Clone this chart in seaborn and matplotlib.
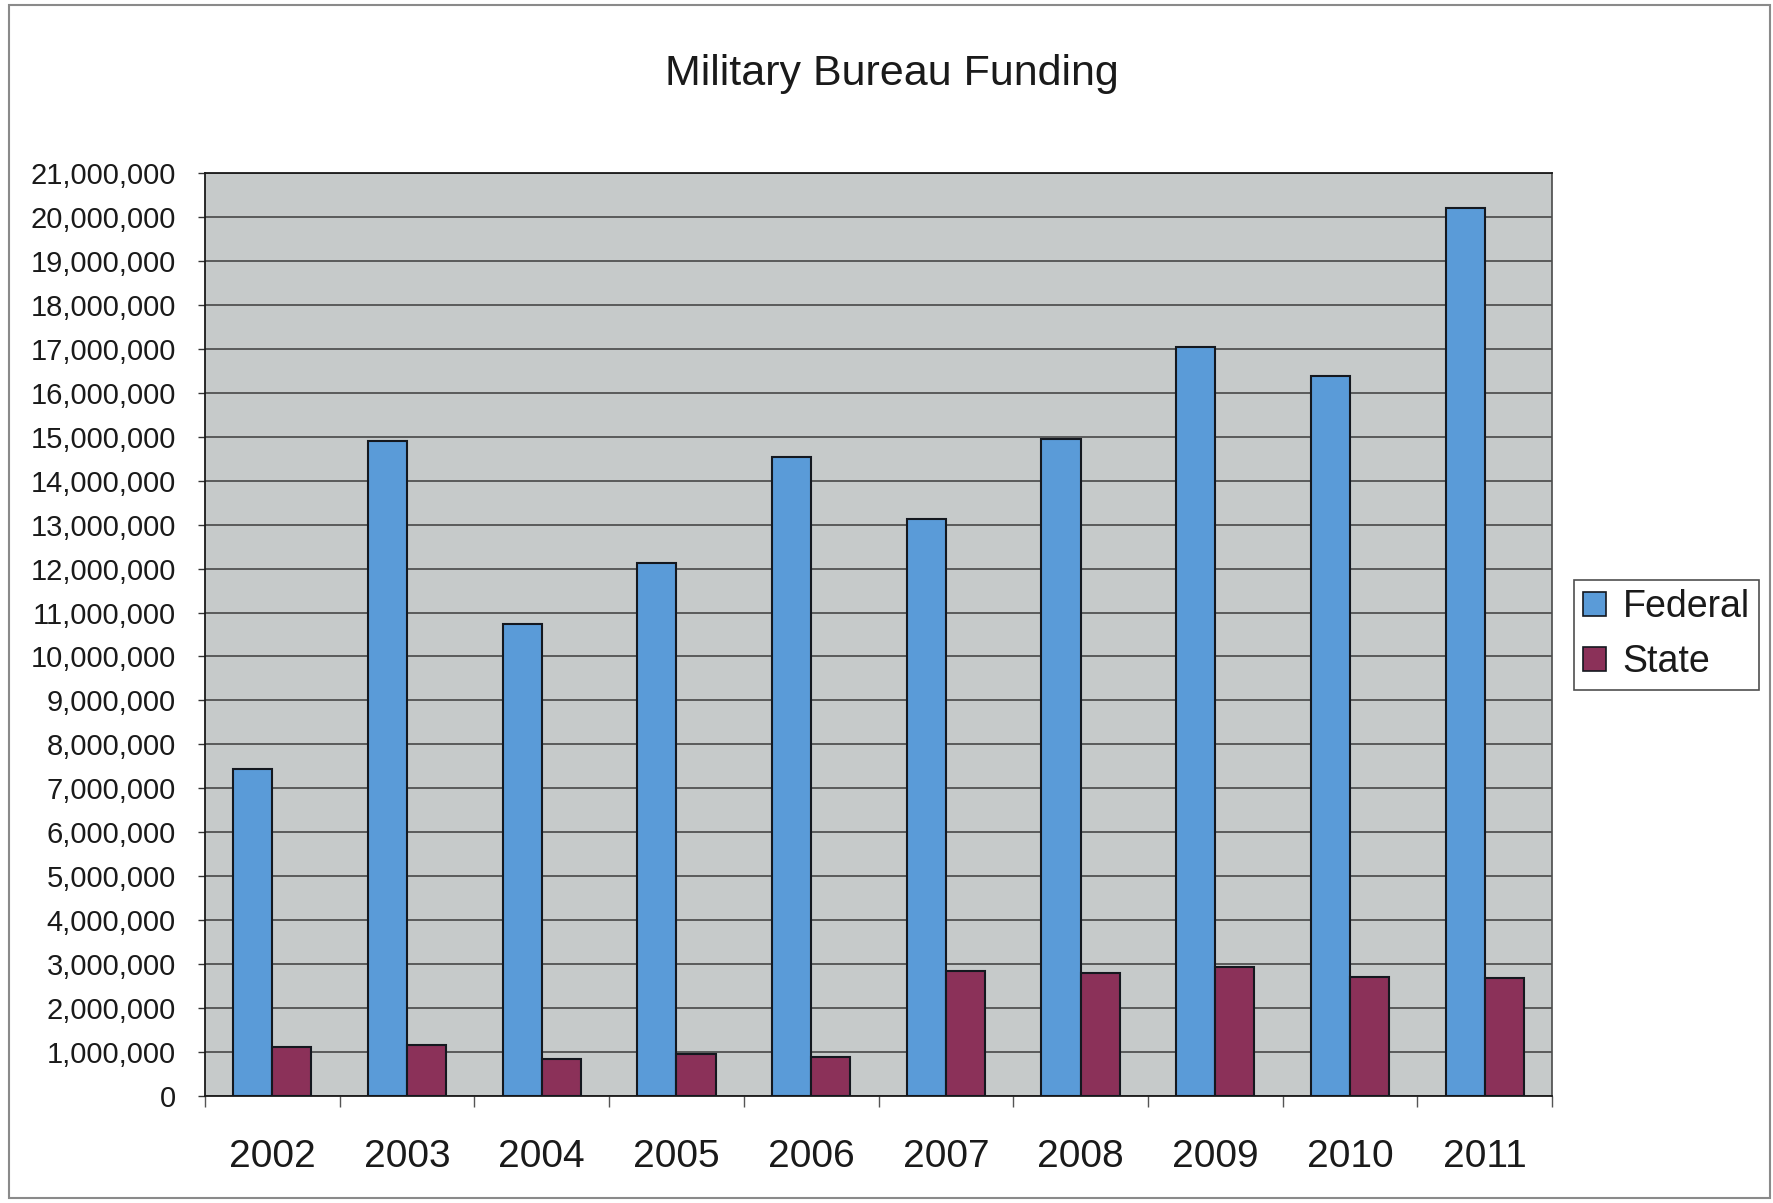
import matplotlib
matplotlib.use("Agg")
import matplotlib.pyplot as plt
from matplotlib.patches import Patch, Rectangle
from matplotlib.ticker import FuncFormatter, MultipleLocator, FixedLocator
import numpy as np
import pandas as pd
import seaborn as sns

# Funding by fiscal year
years = ["2002", "2003", "2004", "2005", "2006", "2007", "2008", "2009", "2010", "2011"]
federal = [7450000, 14900000, 10740000, 12120000, 14540000,
           13130000, 14940000, 17050000, 16380000, 20200000]
state = [1120000, 1170000, 850000, 950000, 890000,
         2850000, 2800000, 2940000, 2710000, 2680000]
series_names = ["Federal", "State"]
series_colors = ["#5a9bd8", "#8b3159"]

df = pd.DataFrame({
    "Year": years * 2,
    "Funding": federal + state,
    "Source": [series_names[0]] * len(years) + [series_names[1]] * len(years),
})

sns.set_style("ticks")
plt.rcParams["font.family"] = ["Liberation Sans", "DejaVu Sans"]
plt.rcParams["text.color"] = "#1a1a1a"

W, H = 1774, 1203
fig = plt.figure(figsize=(W / 100, H / 100), dpi=100)
fig.patch.set_facecolor("white")

left, right, top, bottom = 205, 1552, 173, 1096
ax = fig.add_axes([left / W, 1 - bottom / H, (right - left) / W, (bottom - top) / H])
ax.set_facecolor("#c6caca")

sns.barplot(data=df, x="Year", y="Funding", hue="Source", order=years,
            hue_order=series_names, palette=series_colors, saturation=1,
            width=0.58, errorbar=None, edgecolor="#14181f", linewidth=1.5,
            legend=False, ax=ax, zorder=3)

ax.set_xlim(-0.5, len(years) - 0.5)
ax.set_ylim(0, 21000000)
ax.yaxis.set_major_locator(MultipleLocator(1000000))
ax.yaxis.set_major_formatter(FuncFormatter(lambda v, p: f"{v:,.0f}"))
ax.set_axisbelow(True)
ax.grid(axis="y", color="#3c3c3c", linewidth=1.1)
ax.grid(axis="x", visible=False)
ax.set_xlabel("")
ax.set_ylabel("")

# year labels centred under groups, tick marks between groups
ax.tick_params(axis="x", which="major", length=0, pad=31, labelsize=28,
               labelcolor="#1a1a1a")
ax.xaxis.set_minor_locator(FixedLocator(np.arange(-0.5, len(years), 1.0)))
ax.tick_params(axis="x", which="minor", length=8, width=1.0, color="#555555",
               direction="out")
ax.tick_params(axis="y", length=5, width=1.0, color="#333333", pad=16,
               labelsize=21, labelcolor="#1a1a1a", direction="out")

for side in ["left", "bottom", "top"]:
    ax.spines[side].set_visible(True)
    ax.spines[side].set_color("#1a1a1a")
    ax.spines[side].set_linewidth(1.3)
ax.spines["right"].set_visible(True)
ax.spines["right"].set_color("#4a4a4a")
ax.spines["right"].set_linewidth(1.2)

fig.text(892 / W, 1 - 74 / H, "Military Bureau Funding", ha="center",
         va="center", fontsize=31, color="#1a1a1a")

handles = [Patch(facecolor=c, edgecolor="#14181f", linewidth=1.2, label=n)
           for c, n in zip(series_colors, series_names)]
leg = fig.legend(handles=handles, loc="upper left",
                 bbox_to_anchor=(1574 / W, 1 - 580 / H), fontsize=27,
                 frameon=True, fancybox=False, edgecolor="#222222",
                 handlelength=0.6, handleheight=0.6, handletextpad=0.45,
                 borderpad=0.25, labelspacing=0.5, borderaxespad=0)
leg.get_frame().set_linewidth(1.2)

# chart border
fig.patches.append(Rectangle((9 / W, 1 - 1198 / H), 1761 / W, 1193 / H,
                             transform=fig.transFigure, fill=False,
                             edgecolor="#8a8a8a", linewidth=1.5))

fig.savefig("out.png", dpi=100, facecolor="white")
